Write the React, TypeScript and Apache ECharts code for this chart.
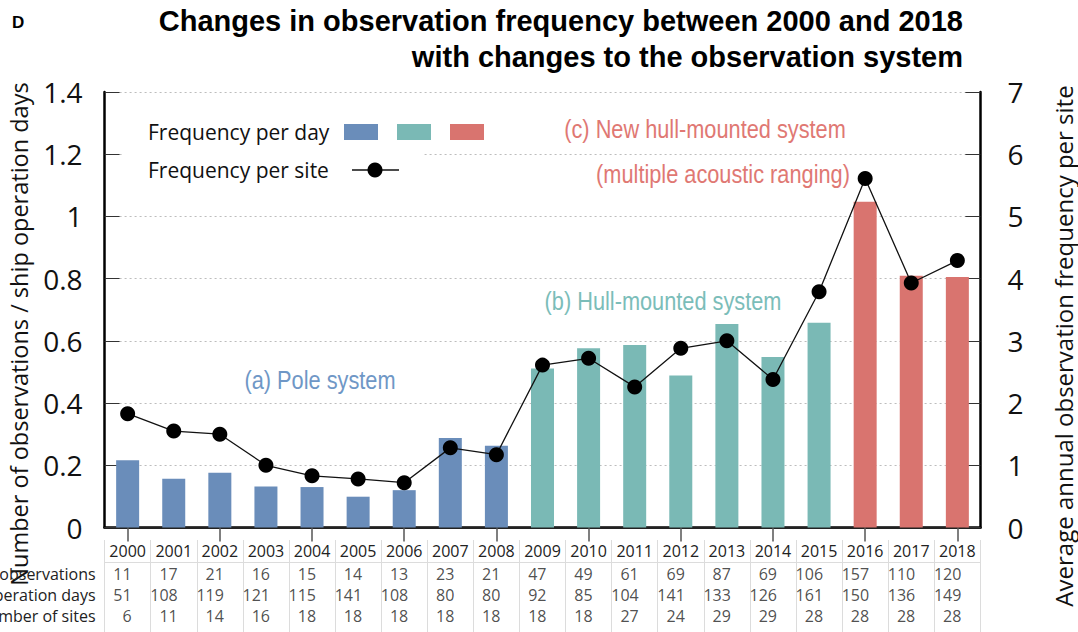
import React, { useEffect, useRef } from "react";
import * as echarts from "echarts";

const years = ["2000","2001","2002","2003","2004","2005","2006","2007","2008","2009","2010","2011","2012","2013","2014","2015","2016","2017","2018"];
const observations = [11,17,21,16,15,14,13,23,21,47,49,61,69,87,69,106,157,110,120];
const operationDays = [51,108,119,121,115,141,108,80,80,92,85,104,141,133,126,161,150,136,149];
const sites = [6,11,14,16,18,18,18,18,18,18,18,27,24,29,29,28,28,28,28];
const freqPerDay = [0.216,0.157,0.176,0.132,0.130,0.099,0.120,0.288,0.263,0.511,0.576,0.587,0.489,0.654,0.548,0.658,1.047,0.809,0.805];
const freqPerSite = [1.83,1.55,1.50,1.00,0.83,0.78,0.72,1.28,1.17,2.61,2.72,2.26,2.88,3.00,2.38,3.79,5.61,3.93,4.29];
const systems = ["a","a","a","a","a","a","a","a","a","b","b","b","b","b","b","b","c","c","c"];
const rowLabels = ["Number of observations","Ship operation days","Number of sites"];
const titleLines = ["Changes in observation frequency between 2000 and 2018","with changes to the observation system"];
const systemLabels = ["(a) Pole system","(b) Hull-mounted system","(c) New hull-mounted system","(multiple acoustic ranging)"];

const BAR_COLORS: Record<string,string> = { a: "#6a8dba", b: "#7ab9b5", c: "#d9746f" };
const TEXT_COLORS: Record<string,string> = { a: "#6f97c6", b: "#7bbdb9", c: "#e07873" };

const SANS = "'Open Sans', 'Noto Sans', sans-serif";
const ARIAL = "'Liberation Sans', Arial, sans-serif";
const GRID_TOP = 92;
const GRID_BOTTOM_Y = 527.5;

export default function App() {
  const ref = useRef<HTMLDivElement>(null);
  useEffect(() => {
    if (!ref.current) return;
    const chart = echarts.init(ref.current, undefined, { renderer: "svg" });
    const tableRows = [observations, operationDays, sites];
    const tableData: number[][] = [];
    tableRows.forEach((row, r) => row.forEach((v, i) => tableData.push([i, r, v])));

    const annotation = (x: number, y: number, text: string, color: string) => ({
      type: "text", x, y, scaleX: 0.87, scaleY: 1,
      style: { text, align: "center", verticalAlign: "middle", fontSize: 25, fontFamily: ARIAL, fill: color },
    });

    const option: any = {
      animation: false,
      backgroundColor: "#ffffff",
      grid: [
        { left: 104.6, right: 97.6, top: GRID_TOP, bottom: 632 - GRID_BOTTOM_Y, containLabel: false, outerBoundsMode: "none" },
        { left: 104.6, right: 97.6, top: 563, bottom: 5.25, containLabel: false, outerBoundsMode: "none" },
      ],
      xAxis: [
        {
          type: "category", data: years, position: "bottom", gridIndex: 0,
          axisLine: { lineStyle: { color: "#000", width: 2.5 } },
          axisTick: { show: false }, axisLabel: { show: false }, splitLine: { show: false },
        },
        {
          type: "category", data: years, position: "top", gridIndex: 0,
          axisLine: { lineStyle: { color: "#222", width: 2 } },
          axisTick: { show: true, inside: true, alignWithLabel: true, interval: 1, length: 14, lineStyle: { color: "#555", width: 1.5 } },
          axisLabel: { show: false }, splitLine: { show: false },
        },
        {
          type: "category", data: years, position: "bottom", offset: 12.5, gridIndex: 0,
          axisLine: { show: false },
          axisTick: { show: true, inside: false, alignWithLabel: false, interval: 0, length: 95, lineStyle: { color: "#dcdcdc", width: 1 } },
          axisLabel: { show: true, interval: 0, margin: 3, fontSize: 16, fontFamily: SANS, color: "#222" },
          splitLine: { show: false },
        },
        {
          type: "category", data: years, position: "bottom", offset: 35, gridIndex: 0,
          axisLine: { show: true, lineStyle: { color: "#dcdcdc", width: 1 } },
          axisTick: { show: false }, axisLabel: { show: false }, splitLine: { show: false },
        },
        {
          type: "category", data: years, gridIndex: 1, show: false,
        },
      ],
      yAxis: [
        {
          type: "value", min: 0, max: 1.4, interval: 0.2, position: "left", gridIndex: 0,
          axisLine: { show: true, lineStyle: { color: "#000", width: 2.5 } },
          axisTick: { show: true, inside: true, length: 15, lineStyle: { color: "#333", width: 1 } },
          axisLabel: { fontSize: 28, fontFamily: SANS, color: "#111", margin: 22 },
          splitLine: { show: true, lineStyle: { color: "#bdbdbd", width: 1, type: [2, 3] } },
        },
        {
          type: "value", min: 0, max: 7, interval: 1, position: "right", gridIndex: 0,
          axisLine: { show: true, lineStyle: { color: "#000", width: 2.5 } },
          axisTick: { show: true, inside: true, length: 15, lineStyle: { color: "#333", width: 1 } },
          axisLabel: { fontSize: 28, fontFamily: SANS, color: "#111", margin: 27 },
          splitLine: { show: false },
        },
        {
          type: "category", data: rowLabels, gridIndex: 1, inverse: true, position: "left",
          axisLine: { show: false }, axisTick: { show: false }, splitLine: { show: false },
          axisLabel: { show: true, interval: 0, margin: 9, fontSize: 16, fontFamily: SANS, color: "#222" },
        },
      ],
      series: [
        {
          name: "Frequency per day",
          type: "bar",
          xAxisIndex: 0, yAxisIndex: 0,
          barWidth: 23,
          data: freqPerDay.map((v, i) => ({ value: v, itemStyle: { color: BAR_COLORS[systems[i]] } })),
          z: 2,
        },
        {
          name: "Frequency per site",
          type: "line",
          xAxisIndex: 0, yAxisIndex: 1,
          data: freqPerSite,
          symbol: "circle", symbolSize: 15,
          lineStyle: { color: "#111", width: 1.3 },
          itemStyle: { color: "#000" },
          z: 3,
        },
        {
          name: "table",
          type: "scatter",
          xAxisIndex: 4, yAxisIndex: 2,
          data: tableData,
          symbolSize: 0,
          silent: true,
          label: {
            show: true, position: "inside", align: "right", verticalAlign: "middle", offset: [4, 0],
            formatter: (p: any) => String(p.value[2]),
            fontSize: 16, fontFamily: SANS, color: "#222",
          },
        },
      ],
      graphic: [
        { type: "rect", z: 1, shape: { x: 123, y: 148, width: 300, height: 12 }, style: { fill: "#fff" } },
        { type: "text", x: 12, y: 22, style: { text: "D", fontSize: 17, fontWeight: "bold", fontFamily: ARIAL, fill: "#000", verticalAlign: "middle" } },
        { type: "text", x: 963, y: 21, style: { text: titleLines[0], align: "right", verticalAlign: "middle", fontSize: 29, fontWeight: "bold", fontFamily: ARIAL, fill: "#000" } },
        { type: "text", x: 963, y: 57, style: { text: titleLines[1], align: "right", verticalAlign: "middle", fontSize: 29, fontWeight: "bold", fontFamily: ARIAL, fill: "#000" } },
        { type: "text", x: 19, y: 334, rotation: Math.PI / 2, style: { text: "Number of observations / ship operation days", align: "center", verticalAlign: "middle", fontSize: 23.5, fontFamily: SANS, fill: "#111" } },
        { type: "text", x: 1063, y: 346, rotation: Math.PI / 2, style: { text: "Average annual observation frequency per site", align: "center", verticalAlign: "middle", fontSize: 24, fontFamily: SANS, fill: "#111" } },
        // legend
        { type: "text", x: 148, y: 132, style: { text: "Frequency per day", verticalAlign: "middle", fontSize: 21, fontFamily: SANS, fill: "#111" } },
        { type: "rect", shape: { x: 344, y: 124, width: 34, height: 16 }, style: { fill: BAR_COLORS.a } },
        { type: "rect", shape: { x: 397, y: 124, width: 34, height: 16 }, style: { fill: BAR_COLORS.b } },
        { type: "rect", shape: { x: 450, y: 124, width: 34, height: 16 }, style: { fill: BAR_COLORS.c } },
        { type: "text", x: 148, y: 170, style: { text: "Frequency per site", verticalAlign: "middle", fontSize: 21, fontFamily: SANS, fill: "#111" } },
        { type: "line", shape: { x1: 352, y1: 170, x2: 399, y2: 170 }, style: { stroke: "#111", lineWidth: 1.3 } },
        { type: "circle", shape: { cx: 375, cy: 170, r: 7.5 }, style: { fill: "#000" } },
        // system annotations
        annotation(320, 380, systemLabels[0], TEXT_COLORS.a),
        annotation(663, 301, systemLabels[1], TEXT_COLORS.b),
        annotation(705, 129, systemLabels[2], TEXT_COLORS.c),
        annotation(723, 174, systemLabels[3], TEXT_COLORS.c),
      ],
    };
    chart.setOption(option);
    return () => chart.dispose();
  }, []);
  return <div ref={ref} style={{ position: "fixed", left: 0, top: 0, width: 1078, height: 632 }} />;
}
